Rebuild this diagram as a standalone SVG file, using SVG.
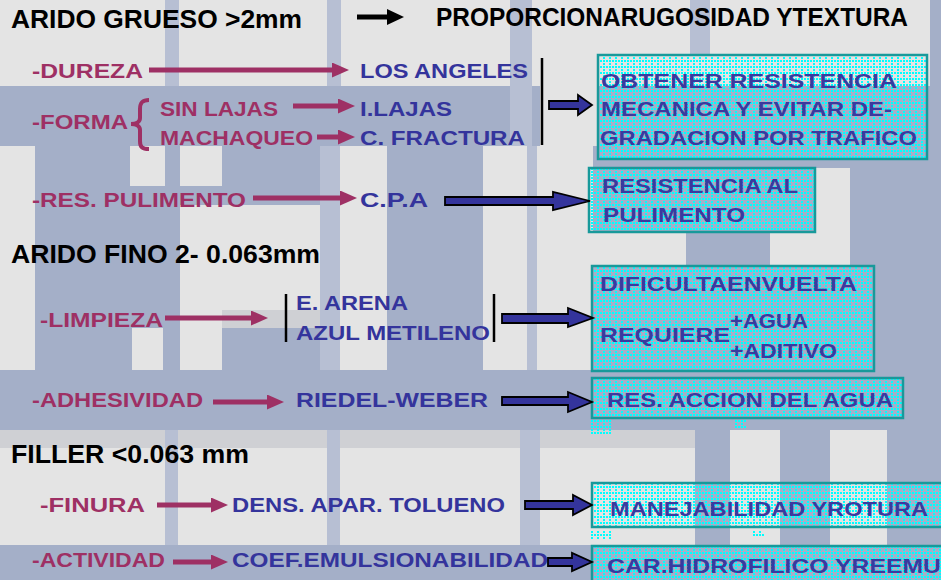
<svg xmlns="http://www.w3.org/2000/svg" width="941" height="580" viewBox="0 0 941 580">
<defs>
<pattern id="dots" width="6" height="6" patternUnits="userSpaceOnUse">
<rect x="0" y="0" width="2" height="2" fill="#00ffff"/>
<rect x="3" y="0" width="2" height="2" fill="#00ffff"/>
<rect x="3" y="3" width="2" height="2" fill="#00ffff"/>
</pattern>
<marker id="mh" markerWidth="17" markerHeight="15" refX="5" refY="7.5" orient="auto" markerUnits="userSpaceOnUse">
<path d="M0,0 L17,7.5 L0,15 z" fill="#9e3064"/>
</marker>
<marker id="kh" markerWidth="17" markerHeight="16" refX="5" refY="8" orient="auto" markerUnits="userSpaceOnUse">
<path d="M0,0 L17,8 L0,16 z" fill="#000"/>
</marker>
</defs>
<style>
.h{font-family:"Liberation Sans",Arial,sans-serif;font-weight:bold;font-size:25px;fill:#000}
.m{font-family:"Liberation Sans",Arial,sans-serif;font-weight:bold;font-size:21px;fill:#9e3064}
.b{font-family:"Liberation Sans",Arial,sans-serif;font-weight:bold;font-size:21px;fill:#34349c}
.t{font-family:"Liberation Sans",Arial,sans-serif;font-weight:bold;font-size:20px;fill:#3a3a9e}
.lt{fill:#e4e4e4}
.st{fill:#b7bfd3}
.gr{fill:#cfd0d4}
.box{fill:url(#dots);stroke:#18999a;stroke-width:2.5}
.dot{fill:url(#dots)}
.ma{stroke:#9e3064;stroke-width:5;fill:none;marker-end:url(#mh)}
.ba{fill:#34349c;stroke:#000;stroke-width:1.8;stroke-linejoin:miter}
.vl{stroke:#000;stroke-width:2.5}
</style>
<g id="background">
<rect x="0" y="0" width="941" height="580" fill="#a4afc8"/>
<rect class="lt" x="0" y="0" width="930" height="86"/>
<rect class="lt" x="540" y="86" width="58" height="60"/>
<rect class="lt" x="0" y="146" width="35" height="224"/>
<rect class="lt" x="130" y="146" width="35" height="40"/>
<rect class="lt" x="180" y="146" width="42" height="40"/>
<rect class="lt" x="340" y="146" width="47" height="224"/>
<rect class="lt" x="483" y="146" width="110" height="224"/>
<rect class="lt" x="180" y="205" width="142" height="105"/>
<rect class="lt" x="180" y="310" width="42" height="60"/>
<rect class="gr" x="222" y="310" width="100" height="18"/>
<rect class="lt" x="132" y="328" width="31" height="42"/>
<rect class="lt" x="593" y="232" width="93" height="34"/>
<rect class="lt" x="770" y="232" width="80" height="34"/>
<rect class="lt" x="815" y="168" width="35" height="64"/>
<rect class="lt" x="0" y="430" width="695" height="115"/>
<rect class="gr" x="0" y="430" width="695" height="18"/>
<rect class="lt" x="730" y="430" width="50" height="115"/>
<rect class="lt" x="830" y="430" width="57" height="115"/>
<rect class="st" x="165" y="0" width="14" height="86"/>
<rect class="st" x="327" y="0" width="14" height="86"/>
<rect class="st" x="320" y="146" width="20" height="224"/>
<rect class="st" x="510" y="0" width="22" height="146"/>
<rect class="st" x="527" y="146" width="10" height="224"/>
<rect class="st" x="690" y="0" width="20" height="55"/>
<rect class="st" x="165" y="430" width="13" height="115"/>
<rect class="st" x="327" y="430" width="13" height="115"/>
<rect class="st" x="520" y="430" width="20" height="115"/>
</g>
<g id="headings">
<text class="h" x="11" y="28" textLength="291" lengthAdjust="spacingAndGlyphs">ARIDO GRUESO &gt;2mm</text>
<text class="h" x="436" y="26" textLength="472" lengthAdjust="spacingAndGlyphs">PROPORCIONARUGOSIDAD YTEXTURA</text>
<text class="h" x="11" y="263" textLength="309" lengthAdjust="spacingAndGlyphs">ARIDO FINO 2- 0.063mm</text>
<text class="h" x="11" y="463" textLength="238" lengthAdjust="spacingAndGlyphs">FILLER &lt;0.063 mm</text>
</g>
<g id="properties">
<text class="m" x="32" y="78" textLength="111" lengthAdjust="spacingAndGlyphs">-DUREZA</text>
<text class="m" x="32" y="129" textLength="96" lengthAdjust="spacingAndGlyphs">-FORMA</text>
<text class="m" x="160" y="116" textLength="118" lengthAdjust="spacingAndGlyphs">SIN LAJAS</text>
<text class="m" x="160" y="145" textLength="153" lengthAdjust="spacingAndGlyphs">MACHAQUEO</text>
<text class="m" x="32" y="207" textLength="214" lengthAdjust="spacingAndGlyphs">-RES. PULIMENTO</text>
<text class="m" x="40" y="327" textLength="123" lengthAdjust="spacingAndGlyphs">-LIMPIEZA</text>
<text class="m" x="32" y="407" textLength="171" lengthAdjust="spacingAndGlyphs">-ADHESIVIDAD</text>
<text class="m" x="40" y="512" textLength="105" lengthAdjust="spacingAndGlyphs">-FINURA</text>
<text class="m" x="32" y="567" textLength="133" lengthAdjust="spacingAndGlyphs">-ACTIVIDAD</text>
<path d="M149,100 C142,100 140,103 140,109 L140,118 C140,122 136,124 131,124 C136,124 140,126 140,130 L140,141 C140,147 142,149 149,149" fill="none" stroke="#9e3064" stroke-width="4"/>
</g>
<g id="tests">
<text class="b" x="360" y="78" textLength="168" lengthAdjust="spacingAndGlyphs">LOS ANGELES</text>
<text class="b" x="360" y="116" textLength="92" lengthAdjust="spacingAndGlyphs">I.LAJAS</text>
<text class="b" x="360" y="145" textLength="165" lengthAdjust="spacingAndGlyphs">C. FRACTURA</text>
<text class="b" x="360" y="207" textLength="68" lengthAdjust="spacingAndGlyphs">C.P.A</text>
<text class="b" x="296" y="310" textLength="112" lengthAdjust="spacingAndGlyphs">E. ARENA</text>
<text class="b" x="296" y="340" textLength="194" lengthAdjust="spacingAndGlyphs">AZUL METILENO</text>
<text class="b" x="296" y="407" textLength="192" lengthAdjust="spacingAndGlyphs">RIEDEL-WEBER</text>
<text class="b" x="232" y="512" textLength="273" lengthAdjust="spacingAndGlyphs">DENS. APAR. TOLUENO</text>
<text class="b" x="232" y="567" textLength="316" lengthAdjust="spacingAndGlyphs">COEF.EMULSIONABILIDAD</text>
</g>
<g id="box1">
<rect class="box" x="598" y="55" width="329" height="104"/>
<text class="t" x="601" y="88" textLength="296" lengthAdjust="spacingAndGlyphs">OBTENER  RESISTENCIA</text>
<text class="t" x="601" y="116" textLength="291" lengthAdjust="spacingAndGlyphs">MECANICA Y EVITAR  DE-</text>
<text class="t" x="600" y="145" textLength="317" lengthAdjust="spacingAndGlyphs">GRADACION POR TRAFICO</text>
</g>
<g id="box2">
<rect class="box" x="589" y="168" width="226" height="64"/>
<text class="t" x="602" y="193" textLength="196" lengthAdjust="spacingAndGlyphs">RESISTENCIA AL</text>
<text class="t" x="603" y="222" textLength="142" lengthAdjust="spacingAndGlyphs">PULIMENTO</text>
</g>
<g id="box3">
<rect class="box" x="592" y="266" width="282" height="105"/>
<text class="t" x="600" y="291" textLength="257" lengthAdjust="spacingAndGlyphs">DIFICULTAENVUELTA</text>
<text class="t" x="600" y="342" textLength="130" lengthAdjust="spacingAndGlyphs">REQUIERE</text>
<text class="t" x="730" y="328" textLength="78" lengthAdjust="spacingAndGlyphs">+AGUA</text>
<text class="t" x="730" y="358" textLength="107" lengthAdjust="spacingAndGlyphs">+ADITIVO</text>
</g>
<g id="box4">
<rect class="box" x="592" y="378" width="311" height="40"/>
<text class="t" x="607" y="407" textLength="286" lengthAdjust="spacingAndGlyphs">RES. ACCION DEL AGUA</text>
<rect class="dot" x="590" y="420" width="22" height="15"/>
<rect class="dot" x="735" y="420" width="12" height="8"/>
</g>
<g id="box5">
<rect class="box" x="592" y="483" width="355" height="44"/>
<text class="t" x="610" y="516" textLength="318" lengthAdjust="spacingAndGlyphs">MANEJABILIDAD YROTURA</text>
<rect class="dot" x="590" y="530" width="22" height="10"/>
<rect class="dot" x="753" y="530" width="12" height="7"/>
</g>
<g id="box6">
<rect class="box" x="592" y="546" width="355" height="40"/>
<text class="t" x="607" y="573" textLength="334" lengthAdjust="spacingAndGlyphs">CAR.HIDROFILICO YREEMU</text>
</g>
<g id="connectors">
<line x1="357" y1="17" x2="392" y2="17" stroke="#000" stroke-width="5" marker-end="url(#kh)"/>
<line class="ma" x1="149" y1="70" x2="337" y2="70"/>
<line class="ma" x1="293" y1="106" x2="343" y2="106"/>
<line class="ma" x1="317" y1="137" x2="343" y2="137"/>
<line class="ma" x1="253" y1="198" x2="345" y2="198"/>
<line class="ma" x1="165" y1="318" x2="256" y2="318"/>
<line class="ma" x1="213" y1="402" x2="272" y2="402"/>
<line class="ma" x1="157" y1="505" x2="216" y2="505"/>
<line class="ma" x1="173" y1="562" x2="216" y2="562"/>
<line class="vl" x1="542" y1="58" x2="542" y2="145"/>
<line class="vl" x1="286" y1="294" x2="286" y2="342"/>
<line class="vl" x1="494" y1="294" x2="494" y2="342"/>
<polygon class="ba" points="549,101 578,101 578,95 592,105 578,115 578,109 549,109"/>
<polygon class="ba" points="445,197 553,197 553,192 590,201 553,210 553,205 445,205"/>
<polygon class="ba" points="502,314 568,314 568,308 593,318 568,327 568,323 502,323"/>
<polygon class="ba" points="502,397 568,397 568,392 592,402 568,412 568,405 502,405"/>
<polygon class="ba" points="525,501 573,501 573,495 592,505 573,515 573,509 525,509"/>
<polygon class="ba" points="548,558 572,558 572,553 592,562 572,571 572,566 548,566"/>
</g>
</svg>
